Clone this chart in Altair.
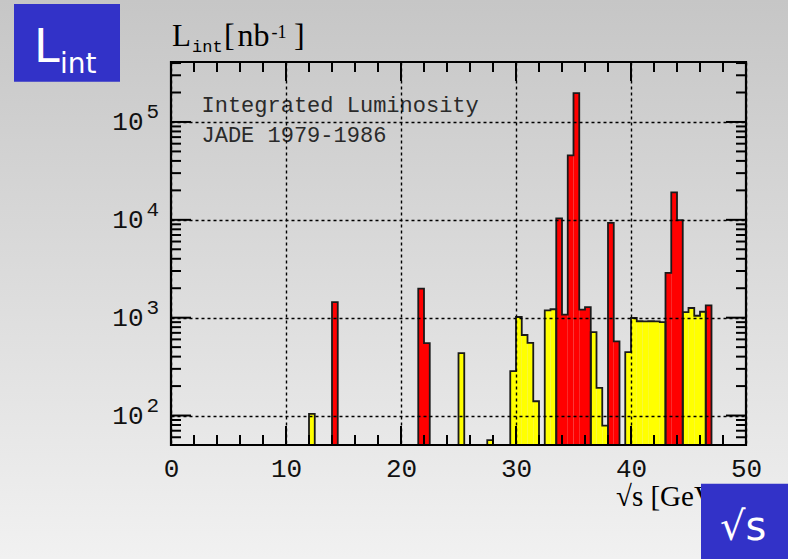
import altair as alt
import pandas as pd

# ---------------- data ----------------
BIN = 0.5
yellow_lo = [12.0, 25.0, 27.5, 29.5, 30.0, 30.5, 31.0, 31.5, 32.5, 33.0,
             36.5, 37.0, 37.5, 39.5, 40.0, 40.5, 41.0, 41.5, 42.0, 42.5,
             44.5, 45.0, 45.5, 46.0]
yellow_val = [104, 434, 56, 284, 1016, 665, 552, 140, 1189, 1220,
              713, 192, 79, 445, 993, 920, 915, 920, 915, 900,
              1142, 1256, 1047, 1150]
red_lo = [14.0, 21.5, 22.0, 33.5, 34.0, 34.5, 35.0, 35.5, 36.0,
          38.0, 38.5, 43.0, 43.5, 44.0, 46.5]
red_val = [1445, 1983, 550, 10330, 1074, 45600, 196700, 1208, 1285,
           9310, 573, 2865, 19060, 9930, 1337]

x_labels = [0, 10, 20, 30, 40, 50]
y_decades = [100, 1000, 10000, 100000]
y_exponents = ["2", "3", "4", "5"]
x_major_ticks = [10, 20, 30, 40]
x_minor_ticks = [2, 4, 6, 8, 12, 14, 16, 18, 22, 24, 26, 28,
                 32, 34, 36, 38, 42, 44, 46, 48]
y_minor_ticks = [50, 60, 70, 80, 90,
                 200, 300, 400, 500, 600, 700, 800, 900,
                 2000, 3000, 4000, 5000, 6000, 7000, 8000, 9000,
                 20000, 30000, 40000, 50000, 60000, 70000, 80000, 90000,
                 200000, 300000, 400000]
BASE = 50
YMAX = 4.1e5

W, H = 575, 383

xs = alt.Scale(domain=[0, 50], nice=False, zero=False)
ys = alt.Scale(type="log", domain=[BASE, YMAX], nice=False)

MONO = "Liberation Mono"
SERIF = "Liberation Serif"

AX_X = alt.Axis(values=x_labels, title=None, grid=True,
                gridDash=[3, 3], gridColor="black", gridWidth=1.4,
                gridOpacity=1, ticks=False, tickSize=0, domain=False,
                labelFont=MONO, labelFontSize=26, labelColor="#111111",
                labelPadding=10, labelFlush=False, labelOverlap=False,
                format="d", zindex=1)
AX_Y = alt.Axis(values=y_decades, title=None, grid=True,
                gridDash=[3, 3], gridColor="black", gridWidth=1.4,
                gridOpacity=1, ticks=False, tickSize=0, domain=False,
                labelFont=MONO, labelFontSize=26, labelColor="#111111",
                labelPadding=28, labelExpr="'10'",
                labelOverlap=False, labelFlush=False, zindex=1)


def X(field):
    return alt.X(field, scale=xs, axis=AX_X, title=None)


def Y(field):
    return alt.Y(field, scale=ys, axis=AX_Y, title=None)


def bar_table(lo, val, color):
    return pd.DataFrame({"lo": lo, "hi": [a + BIN for a in lo], "v": val,
                         "base": [BASE] * len(lo), "c": [color] * len(lo)})


def outline_table(lo, val, tag):
    rows = []
    run = -1
    prev_hi = None
    for a, v in zip(lo, val):
        if prev_hi is None or abs(a - prev_hi) > 1e-6:
            if prev_hi is not None:
                rows.append((f"{tag}{run}", len(rows), prev_hi, BASE))
            run += 1
            rows.append((f"{tag}{run}", len(rows), a, BASE))
        rows.append((f"{tag}{run}", len(rows), a, v))
        rows.append((f"{tag}{run}", len(rows), a + BIN, v))
        prev_hi = a + BIN
    rows.append((f"{tag}{run}", len(rows), prev_hi, BASE))
    return pd.DataFrame(rows, columns=["run", "i", "x", "y"])


bars = pd.concat([bar_table(yellow_lo, yellow_val, "y"),
                  bar_table(red_lo, red_val, "r")], ignore_index=True)
outl = pd.concat([outline_table(yellow_lo, yellow_val, "Y"),
                  outline_table(red_lo, red_val, "R")], ignore_index=True)

one = pd.DataFrame({"k": [0]})


def label(txt, x, y, size, font, color="black", align="left",
          baseline="alphabetic"):
    return alt.Chart(one).mark_text(
        text=txt, font=font, fontSize=size, color=color, align=align,
        baseline=baseline).encode(x=alt.value(x), y=alt.value(y))


# background gradient over the whole canvas
grad = alt.LinearGradient(
    gradient="linear",
    stops=[alt.GradientStop(offset=0, color="#c6c6c6"),
           alt.GradientStop(offset=1, color="#f1f1f1")],
    x1=0, x2=0, y1=0, y2=1)
background = alt.Chart(one).mark_rect(fill=grad).encode(
    x=alt.value(-171), x2=alt.value(617), y=alt.value(-62), y2=alt.value(497))

bar_layer = alt.Chart(bars).mark_rect().encode(
    x=X("lo:Q"),
    x2="hi:Q",
    y=Y("v:Q"),
    y2="base:Q",
    fill=alt.Fill("c:N", scale=alt.Scale(domain=["y", "r"],
                                         range=["#ffff00", "#ff0000"]),
                  legend=None),
)

outline_layer = alt.Chart(outl).mark_line(color="#1a1a1a", strokeWidth=1.8,
                                          strokeJoin="miter").encode(
    x=X("x:Q"),
    y=Y("y:Q"),
    detail="run:N",
    order="i:Q",
)

exp_layer = alt.Chart(pd.DataFrame({"v": y_decades, "e": y_exponents})).mark_text(
    font=MONO, fontSize=21, align="left", baseline="middle", dy=-10,
    color="#111111").encode(
    y=Y("v:Q"), x=alt.value(-24.5), text="e:N")

tick_style = dict(color="black", strokeWidth=2)
tk_xmin = pd.DataFrame({"t": x_minor_ticks})
tk_xmaj = pd.DataFrame({"t": x_major_ticks})
tk_ymin = pd.DataFrame({"t": y_minor_ticks})
tk_ymaj = pd.DataFrame({"t": y_decades})


def xticks(df, length):
    bot = alt.Chart(df).mark_rule(**tick_style).encode(
        x=X("t:Q"), y=alt.value(H), y2=alt.value(H - length))
    top = alt.Chart(df).mark_rule(**tick_style).encode(
        x=X("t:Q"), y=alt.value(0), y2=alt.value(length))
    return [bot, top]


def yticks(df, length):
    left = alt.Chart(df).mark_rule(**tick_style).encode(
        y=Y("t:Q"), x=alt.value(0), x2=alt.value(length))
    right = alt.Chart(df).mark_rule(**tick_style).encode(
        y=Y("t:Q"), x=alt.value(W), x2=alt.value(W - length))
    return [left, right]


frame = alt.Chart(one).mark_rect(fillOpacity=0, stroke="black",
                                 strokeWidth=2.2).encode(
    x=alt.value(0), x2=alt.value(W), y=alt.value(0), y2=alt.value(H))

texts = [
    label("Integrated Luminosity", 30.5, 49.7, 22, MONO, color="#2a2a2a"),
    label("JADE 1979-1986", 30.5, 79.7, 22, MONO, color="#2a2a2a"),
    # y title  L_int[nb^-1]
    label("L", 1.0, -16.3, 31, SERIF),
    label("int", 21.0, -10.3, 17, MONO),
    label("[", 53.0, -16.3, 32, SERIF),
    label("nb", 66.5, -16.3, 32, SERIF),
    label("-1", 100.5, -24.5, 18, SERIF),
    label("]", 123.0, -16.3, 32, SERIF),
    # x title
    label("\u221as [GeV]", 445, 443.7, 29, SERIF),
]

box1 = alt.Chart(one).mark_rect(fill="#3232c8").encode(
    x=alt.value(-157), x2=alt.value(-51), y=alt.value(-58), y2=alt.value(19.7))
box2 = alt.Chart(one).mark_rect(fill="#3232c8").encode(
    x=alt.value(530), x2=alt.value(617), y=alt.value(421.7), y2=alt.value(497))
box_texts = [
    label("L", -137, -0.5, 46, "DejaVu Sans", color="white"),
    label("int", -111, 10.5, 28, "DejaVu Sans", color="white"),
    label("\u221as", 549, 478, 40, "DejaVu Sans", color="white"),
]

layers = ([background, bar_layer, outline_layer, exp_layer]
          + xticks(tk_xmin, 10) + xticks(tk_xmaj, 19)
          + yticks(tk_ymin, 10) + yticks(tk_ymaj, 20)
          + [frame] + texts + [box1, box2] + box_texts)

chart = alt.layer(*layers).properties(
    width=W, height=H,
    autosize=alt.AutoSizeParams(type="none"),
    padding={"left": 171, "top": 62, "right": 42, "bottom": 114},
    background="#dcdcdc",
).configure_view(stroke="transparent")

chart.save("out.html", embed_options={"renderer": "svg", "actions": False})
